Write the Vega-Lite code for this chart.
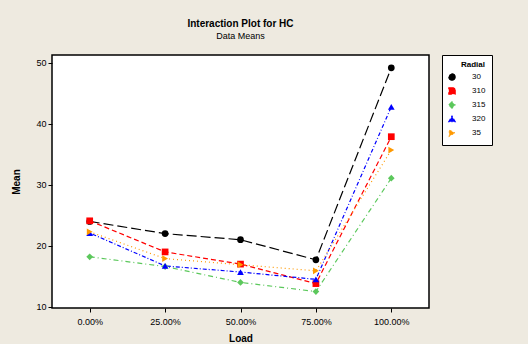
{
  "$schema": "https://vega.github.io/schema/vega-lite/v6.json",
  "width": 377,
  "height": 253,
  "autosize": {"type": "none"},
  "padding": {"left": 52, "top": 55, "right": 99, "bottom": 36},
  "background": "#EEEAE0",
  "title": {
    "text": "Interaction Plot for HC",
    "subtitle": "Data Means",
    "anchor": "middle",
    "offset": 14,
    "font": "Liberation Sans",
    "fontSize": 10,
    "fontWeight": "bold",
    "color": "#000",
    "subtitleFont": "Liberation Sans",
    "subtitleFontSize": 9,
    "subtitleColor": "#000",
    "subtitlePadding": 3
  },
  "config": {
    "view": {"fill": "white", "stroke": "black", "strokeWidth": 1.5},
    "font": "Liberation Sans",
    "axis": {
      "labelFont": "Liberation Sans",
      "labelFontSize": 9,
      "labelColor": "#000",
      "titleFont": "Liberation Sans",
      "titleFontSize": 10,
      "titleFontWeight": "bold",
      "titleColor": "#000",
      "grid": false,
      "domainColor": "black",
      "tickColor": "black",
      "tickSize": 4
    },
    "legend": {
      "labelFont": "Liberation Sans",
      "labelFontSize": 8,
      "titleFont": "Liberation Sans",
      "titleFontSize": 8
    }
  },
  "data": {
    "values": [
      {"load": "0.00%", "group": "30", "mean": 24.0},
      {"load": "25.00%", "group": "30", "mean": 22.0},
      {"load": "50.00%", "group": "30", "mean": 21.0},
      {"load": "75.00%", "group": "30", "mean": 17.7},
      {"load": "100.00%", "group": "30", "mean": 49.2},
      {"load": "0.00%", "group": "310", "mean": 24.1},
      {"load": "25.00%", "group": "310", "mean": 19.0},
      {"load": "50.00%", "group": "310", "mean": 17.0},
      {"load": "75.00%", "group": "310", "mean": 13.8},
      {"load": "100.00%", "group": "310", "mean": 37.9},
      {"load": "0.00%", "group": "315", "mean": 18.2},
      {"load": "25.00%", "group": "315", "mean": 16.6},
      {"load": "50.00%", "group": "315", "mean": 14.0},
      {"load": "75.00%", "group": "315", "mean": 12.5},
      {"load": "100.00%", "group": "315", "mean": 31.1},
      {"load": "0.00%", "group": "320", "mean": 22.1},
      {"load": "25.00%", "group": "320", "mean": 16.7},
      {"load": "50.00%", "group": "320", "mean": 15.7},
      {"load": "75.00%", "group": "320", "mean": 14.5},
      {"load": "100.00%", "group": "320", "mean": 42.8},
      {"load": "0.00%", "group": "35", "mean": 22.3},
      {"load": "25.00%", "group": "35", "mean": 17.9},
      {"load": "50.00%", "group": "35", "mean": 16.9},
      {"load": "75.00%", "group": "35", "mean": 15.9},
      {"load": "100.00%", "group": "35", "mean": 35.7}
    ]
  },
  "encoding": {
    "x": {
      "field": "load",
      "type": "ordinal",
      "sort": ["0.00%", "25.00%", "50.00%", "75.00%", "100.00%"],
      "title": "Load",
      "scale": {"type": "point", "padding": 0.5},
      "axis": {"labelAngle": 0, "domain": false, "labelPadding": 5, "titleY": 30, "titleBaseline": "middle"}
    },
    "y": {
      "field": "mean",
      "type": "quantitative",
      "title": "Mean",
      "scale": {"domain": [9.8, 51.3], "nice": false, "zero": false},
      "axis": {"values": [10, 20, 30, 40, 50], "domain": false, "titlePadding": 14}
    },
    "color": {
      "field": "group",
      "type": "nominal",
      "title": "Radial",
      "scale": {"domain": ["30", "310", "315", "320", "35"], "range": ["#000000", "#FF0000", "#5CC85C", "#0000FF", "#FF9900"]},
      "legend": {
        "orient": "none",
        "legendX": 390,
        "legendY": 0,
        "fillColor": "white",
        "strokeColor": "black",
        "padding": 6,
        "titleAnchor": "end",
        "titlePadding": 4,
        "rowPadding": 2,
        "labelOffset": 16,
        "symbolSize": 40,
        "symbolStrokeWidth": 1.2
      }
    }
  },
  "layer": [
    {
      "mark": {"type": "line", "strokeWidth": 1.2},
      "encoding": {
        "strokeDash": {
          "field": "group",
          "type": "nominal",
          "title": "Radial",
          "scale": {"domain": ["30", "310", "315", "320", "35"], "range": [[10, 4], [5, 3], [5, 3, 1, 3], [1, 2, 4, 2], [1, 3]]}
        }
      }
    },
    {
      "mark": {"type": "point", "filled": true, "size": 45, "opacity": 1},
      "encoding": {
        "shape": {
          "field": "group",
          "type": "nominal",
          "title": "Radial",
          "scale": {"domain": ["30", "310", "315", "320", "35"], "range": ["circle", "square", "diamond", "triangle-up", "triangle-right"]}
        }
      }
    }
  ]
}
